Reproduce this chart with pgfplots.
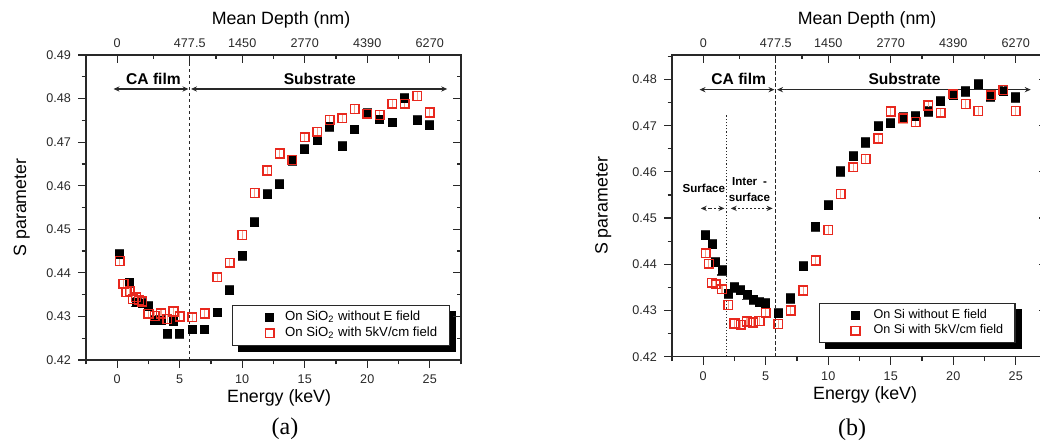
\documentclass[border=0pt]{standalone}
\usepackage{fontspec}
\setmainfont{Liberation Sans}
\newfontfamily\capfont{Liberation Serif}
\usepackage{pgfplots}
\pgfplotsset{compat=1.18}
\usetikzlibrary{arrows.meta}
\pgfdeclarelayer{background}
\pgfsetlayers{background,main}

\definecolor{sqred}{RGB}{232,40,30}
\definecolor{errred}{RGB}{246,160,140}
\definecolor{errblk}{RGB}{60,60,60}
\definecolor{axgray}{RGB}{40,40,40}

% left panel: SiO2 substrate
\pgfplotstableread{
E S
0.2 0.4443
1.0 0.4377
1.5 0.4333
2.0 0.4330
2.5 0.4324
3.0 0.4292
3.5 0.4292
4.0 0.4260
4.5 0.4289
5.0 0.4260
6 0.4270
7 0.4270
8 0.4309
9 0.4360
10 0.4439
11 0.4516
12 0.4581
13 0.4604
14 0.4657
15 0.4684
16 0.4705
17 0.4735
18 0.4691
19 0.4729
20 0.4766
21 0.4752
22 0.4745
23 0.4801
24 0.4751
25 0.4739
}\sionoff
\pgfplotstableread{
E S
0.2 0.4427
0.5 0.4375
0.75 0.4356
1.0 0.4358
1.25 0.4340
1.5 0.4344
1.75 0.4337
2.0 0.4334
2.5 0.4306
3.0 0.4301
3.5 0.4307
4.0 0.4294
4.5 0.4311
5.0 0.4300
6 0.4298
7 0.4307
8 0.4390
9 0.4423
10 0.4487
11 0.4583
12 0.4635
13 0.4674
14 0.4659
15 0.4711
16 0.4724
17 0.4751
18 0.4755
19 0.4776
20 0.4765
21 0.4762
22 0.4788
23 0.4788
24 0.4806
25 0.4768
}\sionon
% right panel: Si substrate
\pgfplotstableread{
E S
0.2 0.4463
0.7 0.4444
1.0 0.4405
1.5 0.4387
2.0 0.4336
2.5 0.4350
3.0 0.4344
3.5 0.4334
4.0 0.4323
4.5 0.4318
5.0 0.4316
6 0.4294
7 0.4326
8 0.4396
9 0.4481
10 0.4528
11 0.4601
12 0.4634
13 0.4664
14 0.4699
15 0.4706
16 0.4718
17 0.4721
18 0.4731
19 0.4753
20 0.4766
21 0.4774
22 0.4789
23 0.4763
24 0.4775
25 0.4761
}\sioff
\pgfplotstableread{
E S
0.2 0.4424
0.45 0.4401
0.7 0.4360
1.0 0.4357
1.5 0.4346
2.0 0.4312
2.5 0.4272
3.0 0.4269
3.5 0.4276
4.0 0.4274
4.5 0.4277
5.0 0.4295
6 0.4271
7 0.4300
8 0.4343
9 0.4408
10 0.4474
11 0.4552
12 0.4610
13 0.4628
14 0.4672
15 0.4731
16 0.4716
17 0.4708
18 0.4744
19 0.4728
20 0.4768
21 0.4747
22 0.4732
23 0.4766
24 0.4777
25 0.4732
}\sion

\pgfplotsset{
  panel/.style={scale only axis, width=187.5pt, xmin=-2.5, xmax=27.5, ymin=0.42,
    anchor=south west,
    /pgf/number format/assume math mode=true,
    tick label style={font=\fontsize{6.3}{7.5}\selectfont, axgray},
    label style={font=\fontsize{8.9}{10.5}\selectfont},
    axis line style={line width=0.6pt, axgray},
    every tick/.style={line width=0.6pt, axgray},
    major tick length=4pt, minor tick length=2.2pt},
  lowpanel/.style={panel, tick align=outside, xtick pos=bottom, ytick pos=left,
    xtick={0,5,10,15,20,25}, minor xtick={-2.5,2.5,7.5,12.5,17.5,22.5,27.5},
    xlabel={Energy (keV)}, ylabel={S parameter},
    xlabel style={at={(axis description cs:0.515,0)}, anchor=center, yshift=-19pt}},
  toppanel/.style={panel, axis x line*=top, axis y line*=right, tick align=inside,
    xtick={0,5.8,10,15,20,25}, xticklabels={0,477.5,1450,2770,4390,6270},
    minor xtick={2.9,7.9,12.5,17.5,22.5}, yticklabels={},
    xlabel={Mean Depth (nm)},
    xlabel style={at={(axis description cs:0.52,1)}, anchor=center, yshift=17.5pt}},
  blkmark/.style={only marks, mark=square*, mark size=2pt,
    mark options={fill=black, draw=black, solid}},
  redmark/.style={only marks, mark=square, mark size=2.2pt,
    mark options={draw=sqred, line width=0.75pt, solid}},
  blk/.style={blkmark, forget plot,
    error bars/.cd, y dir=both, y fixed=0.0010,
    error bar style={errblk, line width=0.6pt},
    error mark options={rotate=90, mark size=2.3pt, line width=0.6pt, errblk}},
  red/.style={redmark, forget plot,
    error bars/.cd, y dir=both, y fixed=0.0010,
    error bar style={errred, line width=0.6pt},
    error mark options={rotate=90, mark size=2.5pt, line width=0.6pt, errred}},
  imgA/.style={legend image code/.code={\path (0,0); \draw[##1] plot coordinates {(0.5cm,0cm)};}},
  imgB/.style={legend image code/.code={\path (0,0); \draw[##1] plot coordinates {(0.476cm,0cm)};}},
  lgd/.style={legend style={draw=axgray, fill=white, line width=0.6pt,
    inner ysep=2pt, nodes={inner ysep=0.8pt}, legend cell align=left}},
}

\tikzset{rng/.style={{Stealth[length=3pt,width=2.6pt]}-{Stealth[length=3pt,width=2.6pt]}, line width=0.55pt, axgray}}

\begin{document}
\begin{tikzpicture}
\path[use as bounding box] (0,0) rectangle (520pt,221pt);

% ---------- (a) ----------
\begin{axis}[lowpanel, lgd, at={(43pt,41pt)}, height=152.5pt, ymax=0.49,
  ytick={0.42,0.43,0.44,0.45,0.46,0.47,0.48,0.49},
  yticklabels={0.42,0.43,0.44,0.45,0.46,0.47,0.48,0.49},
  minor ytick={0.425,0.435,0.445,0.455,0.465,0.475,0.485},
  ylabel style={at={(axis description cs:-0.171,0.5)}, anchor=center},
  legend style={name=legA, at={(axis cs:9.18,0.4326)}, anchor=north west,
    font=\fontsize{6.6}{8}\selectfont, inner xsep=4pt, column sep=3.5pt}]
\draw[axgray, line width=0.6pt, dash pattern=on 1.6pt off 1.4pt] (5.8,0.42) -- (5.8,0.49);
\addplot[blk] table[x=E, y=S] {\sionoff};
\addplot[red] table[x=E, y=S] {\sionon};
\addlegendimage{blkmark, imgA}
\addlegendentry{On SiO\textsubscript{2} without E field}
\addlegendimage{redmark, imgA}
\addlegendentry{On SiO\textsubscript{2} with 5kV/cm field}
\draw[rng] (-0.3,0.4822) -- (5.7,0.4822);
\draw[rng] (5.9,0.4822) -- (26.4,0.4822);
\node[font=\fontsize{7.8}{9}\selectfont\bfseries] at (2.9,0.4845) {CA film};
\node[font=\fontsize{7.8}{9}\selectfont\bfseries] at (16.2,0.4845) {Substrate};
\end{axis}
\begin{axis}[toppanel, at={(43pt,41pt)}, height=152.5pt, ymax=0.49,
  ytick={0.42,0.43,0.44,0.45,0.46,0.47,0.48,0.49},
  minor ytick={0.425,0.435,0.445,0.455,0.465,0.475,0.485}]
\end{axis}

% ---------- (b) ----------
\begin{axis}[lowpanel, lgd, at={(336pt,42.65pt)}, height=150.85pt, ymax=0.4853,
  ytick={0.42,0.43,0.44,0.45,0.46,0.47,0.48},
  yticklabels={0.42,0.43,0.44,0.45,0.46,0.47,0.48},
  minor ytick={0.425,0.435,0.445,0.455,0.465,0.475,0.485},
  ylabel style={at={(axis description cs:-0.183,0.5)}, anchor=center},
  legend style={name=legB, at={(axis cs:9.28,0.4316)}, anchor=north west,
    font=\fontsize{6.3}{8}\selectfont, inner xsep=4pt, column sep=4.8pt}]
\draw[axgray, line width=0.6pt, dash pattern=on 1.6pt off 1.4pt] (5.8,0.42) -- (5.8,0.4853);
\draw[axgray, line width=0.5pt, dash pattern=on 0.6pt off 1pt] (1.85,0.42) -- (1.85,0.4723);
\addplot[blk] table[x=E, y=S] {\sioff};
\addplot[red] table[x=E, y=S] {\sion};
\addlegendimage{blkmark, imgB}
\addlegendentry{On Si without E field}
\addlegendimage{redmark, imgB}
\addlegendentry{On Si with 5kV/cm field}
\draw[rng] (-0.3,0.4778) -- (5.7,0.4778);
\draw[rng] (5.9,0.4778) -- (26.2,0.4778);
\node[font=\fontsize{7.8}{9}\selectfont\bfseries] at (2.84,0.4801) {CA film};
\node[font=\fontsize{7.8}{9}\selectfont\bfseries] at (16.1,0.4801) {Substrate};
\draw[rng, dash pattern=on 1pt off 1pt on 2pt off 1pt] (-0.2,0.4521) -- (1.7,0.4521);
\draw[rng, dash pattern=on 1pt off 1pt] (2.2,0.4521) -- (5.55,0.4521);
\node[font=\fontsize{5.8}{7}\selectfont\bfseries] at (0.05,0.4564) {Surface};
\node[font=\fontsize{5.8}{7.8}\selectfont\bfseries, align=center] at (3.7,0.4562) {Inter\enspace-\\surface};
\end{axis}
\begin{axis}[toppanel, at={(336pt,42.65pt)}, height=150.85pt, ymax=0.4853,
  ytick={0.42,0.43,0.44,0.45,0.46,0.47,0.48},
  minor ytick={0.425,0.435,0.445,0.455,0.465,0.475,0.485}]
\end{axis}

% legend shadows
\begin{pgfonlayer}{background}
\fill[black] ([shift={(3pt,-3pt)}]legA.south west) rectangle ([shift={(3pt,-3pt)}]legA.north east);
\fill[black] ([shift={(3pt,-3pt)}]legB.south west) rectangle ([shift={(3pt,-3pt)}]legB.north east);
\end{pgfonlayer}

\node[font=\capfont\fontsize{12}{14}\selectfont] at (142.5pt,6.5pt) {(a)};
\node[font=\capfont\fontsize{12}{14}\selectfont] at (426pt,6pt) {(b)};
\end{tikzpicture}
\end{document}
